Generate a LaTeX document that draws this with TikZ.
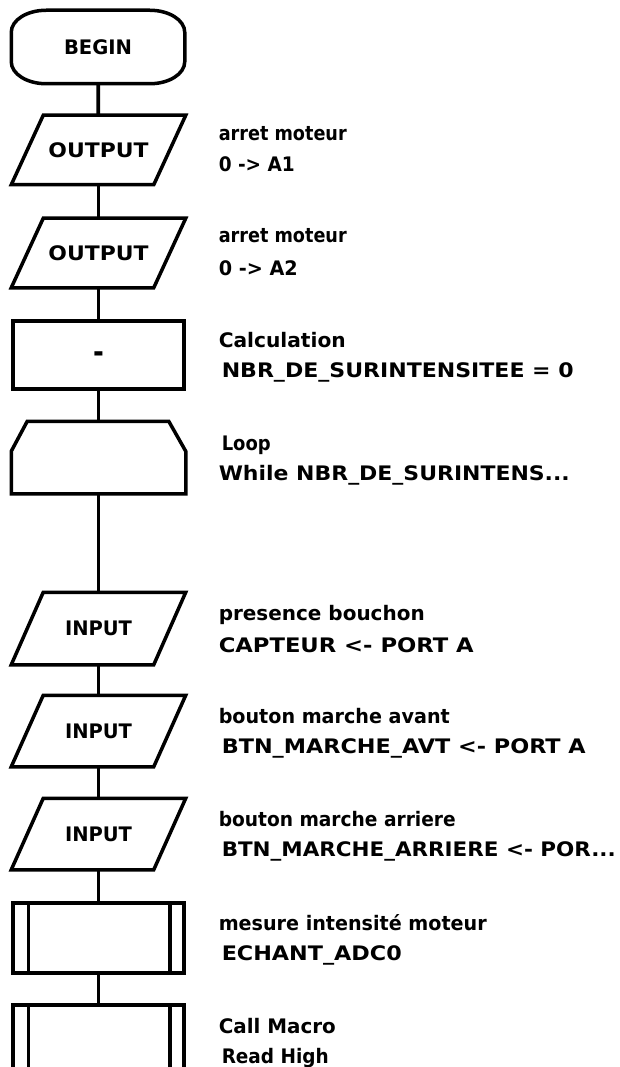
\documentclass[tikz,border=0pt]{standalone}
\usepackage{fontspec}
\usepackage{graphicx}
\newfontfamily\pixfont{DejaVu Sans}
\newcommand{\fw}[2]{\resizebox{#1}{\height}{#2}}
\begin{document}
\begin{tikzpicture}[x=1pt,y=-1pt,line width=3.5pt,
  every node/.style={font=\pixfont\bfseries\fontsize{20pt}{22pt}\selectfont, inner sep=0pt},
  terminal/.style={rectangle, minimum width=170pt, minimum height=70pt},
  iobox/.style={rectangle, minimum width=171pt, minimum height=66pt},
  procbox/.style={draw, rectangle, minimum width=171pt, minimum height=68pt},
  loopbox/.style={rectangle, minimum width=171pt, minimum height=69pt},
  subbox/.style={draw, rectangle, minimum width=171pt, minimum height=70pt},
  lbl/.style={anchor=base west},
  conn/.style={line width=3.7pt}]
\useasboundingbox (0,0) rectangle (619,1067);
\clip (0,0) rectangle (619,1067);
\fill[white] (0,0) rectangle (619,1067);

% shapes
\node[terminal] (begin) at (98,47) {\fw{68pt}{BEGIN}};
\node[iobox] (o1) at (98.5,150) {\fw{100pt}{OUTPUT}};
\node[iobox] (o2) at (98.5,253) {\fw{100pt}{OUTPUT}};
\node[procbox] (calc) at (98.5,355) {\scalebox{1.3}[1.5]{-}\rule{0pt}{15pt}};
\node[loopbox] (loop) at (98.5,457.5) {};
\node[iobox, minimum height=69pt] (i1) at (98.5,628.5) {\fw{67pt}{INPUT}};
\node[iobox, minimum height=68pt] (i2) at (98.5,731) {\fw{67pt}{INPUT}};
\node[iobox, minimum height=68pt] (i3) at (98.5,834) {\fw{67pt}{INPUT}};
\node[subbox] (s1) at (98.5,938) {};
\node[subbox, minimum height=90pt] (s2) at (98.5,1050) {};

% terminal outline (elliptical corners)
\draw ([xshift=35pt]begin.north west) -- ([xshift=-35pt]begin.north east)
  arc[start angle=90, end angle=0, x radius=35pt, y radius=22pt]
  -- ([yshift=22pt]begin.south east)
  arc[start angle=0, end angle=-90, x radius=35pt, y radius=22pt]
  -- ([xshift=35pt]begin.south west)
  arc[start angle=270, end angle=180, x radius=35pt, y radius=22pt]
  -- ([yshift=-22pt]begin.north west)
  arc[start angle=180, end angle=90, x radius=35pt, y radius=22pt] -- cycle;

% parallelogram outlines
\foreach \n in {o1,o2,i1,i2,i3}
  \draw ([xshift=32pt]\n.north west) -- (\n.north east) -- ([xshift=-32pt]\n.south east) -- (\n.south west) -- cycle;

% loop outline
\draw (loop.south west) -- ([yshift=-30pt]loop.north west) -- ([xshift=16pt]loop.north west)
  -- ([xshift=-17pt]loop.north east) -- ([yshift=-30pt]loop.north east) -- (loop.south east) -- cycle;

% subroutine inner bars
\foreach \n in {s1,s2} {
  \draw ([xshift=17pt]\n.north west) -- ([xshift=17pt]\n.south west);
  \draw ([xshift=-16pt]\n.north east) -- ([xshift=-16pt]\n.south east);
}

% connectors
\draw[conn] (begin) -- (o1);
\draw[conn] (o1) -- (o2);
\draw[conn] (o2) -- (calc);
\draw[conn] (calc) -- (loop);
\draw[conn] (loop) -- (i1);
\draw[conn] (i1) -- (i2);
\draw[conn] (i2) -- (i3);
\draw[conn] (i3) -- (s1);
\draw[conn] (s1) -- (s2);

% labels
\node[lbl] (t1a) at (217,141) {\fw{128pt}{arret moteur}};
\node[lbl] (t1b) at (217,172) {\fw{76pt}{0 -> A1}};
\node[lbl] (t2a) at (217,243) {\fw{128pt}{arret moteur}};
\node[lbl] (t2b) at (217,275) {\fw{79pt}{0 -> A2}};
\node[lbl] (t3a) at (217,347) {\fw{127pt}{Calculation}};
\node[lbl] (t3b) at (220,377) {\fw{352pt}{NBR\_DE\_SURINTENSITEE = 0}};
\node[lbl] (t4a) at (220,450) {\fw{49pt}{Loop}};
\node[lbl] (t4b) at (217,480) {\fw{351pt}{While NBR\_DE\_SURINTENS...}};
\node[lbl] (t5a) at (217,620) {\fw{206pt}{presence bouchon}};
\node[lbl] (t5b) at (217,652) {\fw{255pt}{CAPTEUR <- PORT A}};
\node[lbl] (t6a) at (217,723) {\fw{231pt}{bouton marche avant}};
\node[lbl] (t6b) at (220,753) {\fw{364pt}{BTN\_MARCHE\_AVT <- PORT A}};
\node[lbl] (t7a) at (217,826) {\fw{237pt}{bouton marche arriere}};
\node[lbl] (t7b) at (220,856) {\fw{394pt}{BTN\_MARCHE\_ARRIERE <- POR...}};
\node[lbl] (t8a) at (217,930) {\fw{268pt}{mesure intensité moteur}};
\node[lbl] (t8b) at (220,960) {\fw{180pt}{ECHANT\_ADC0}};
\node[lbl] (t9a) at (217,1033) {\fw{117pt}{Call Macro}};
\node[lbl] (t9b) at (220,1063) {\fw{107pt}{Read High}};
\end{tikzpicture}
\end{document}
